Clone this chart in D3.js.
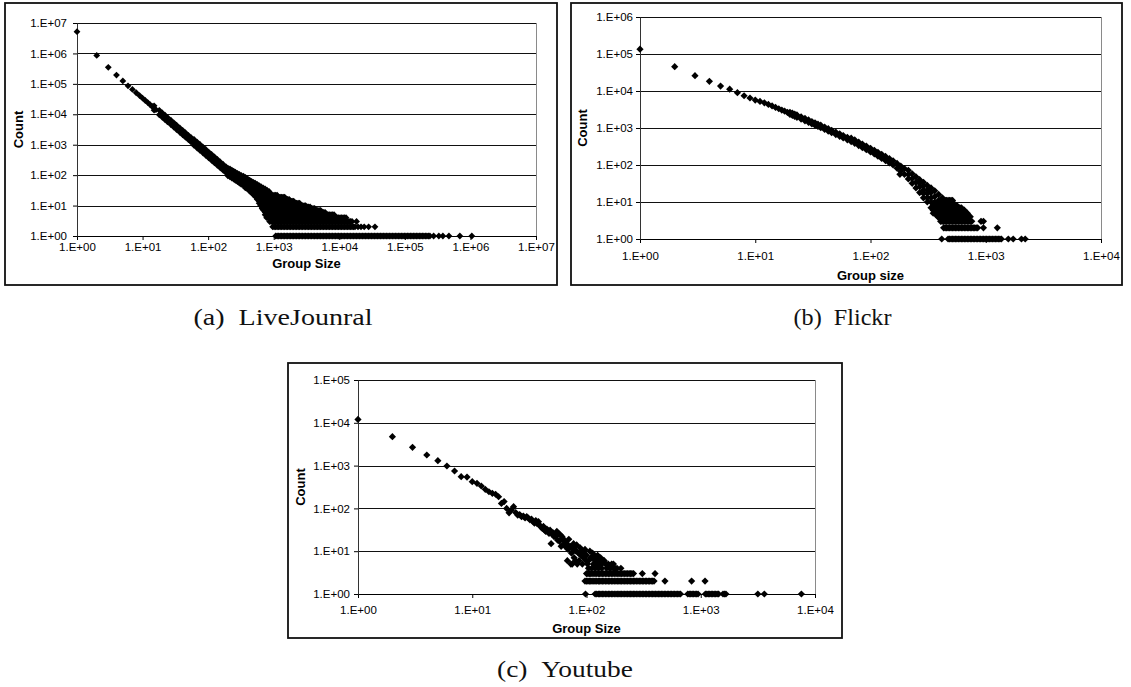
<!DOCTYPE html>
<html><head><meta charset="utf-8">
<script src="https://cdn.jsdelivr.net/npm/d3@7"></script>
<style>html,body{margin:0;padding:0;background:#fff;}svg{display:block;}</style>
</head><body>
<svg id="chart" width="1131" height="687"></svg>
<script>
// ---------------- DATA ----------------
// (a) LiveJournal
const ljXTicks = [1,10,100,1e3,1e4,1e5,1e6,1e7];
const ljYTicks = [1,10,100,1e3,1e4,1e5,1e6,1e7];
const ljHead = [[1,5200000],[2,860000],[3,350000],[4,195000],[5,125000],[6,86000],[7,65500],[8,51000],[9,41100],[10,33800],[11,28400],[12,24200],[13,20800],[14,18000],[16,14200]];
const ljCols = [
 [15,[18900,13600]],[18,[13450,9660]],[20,[11070,7950]],[22,[9290,6670]],[24,[7900,5680]],
 [27,[6370,4580]],[30,[5240,3760]],[33,[4380,3140]],[37,[3550,2550]],[41,[2930,2100]],
 [45,[2470,1770]],[50,[2030,1460]],[55,[1710,1230]],[61,[1490,1190,950]],[68,[1220,973,780]],
 [75,[1020,813,650]],[83,[845,675,540]],[92,[700,557,445]],[102,[575,460,368]],[113,[476,381,305]],
 [125,[395,316,253]],[138,[330,263,210]],[153,[272,217,174]],[170,[224,179,143]],[188,[186,149,119]],
 [200,[170,140,115,95]],[215,[160,130,105,88]],[230,[145,118,95,80]],[245,[135,110,88,74]],
 [260,[125,100,82,68]],[280,[115,92,75,61]],[300,[105,85,68,55]],[320,[98,80,64,50]],
 [345,[92,75,60,46]],[370,[85,68,54,43,38]],[400,[75,60,48,38,35]],[430,[68,55,44,36,30]],
 [460,[62,50,40,32,26]],[490,[58,46,37,29,23]],[520,[55,44,35,28,22,20]],[560,[50,40,32,25,19,16]],
 [600,[45,36,29]],[640,[42,34,28]],[690,[38,31]],[740,[35,29]],[790,[32,27]],[850,[29]]
];
const ljSizes = [600,632,666,702,740,780,822,867,914,963,1015,1070,1128,1189,1253,1321,1392,1467,1546,1630,1718,1811,1909,2012,2120,2235,2356,2483,2617,2758,2907,3064,3230,3404,3588,3782,3986,4201,4428,4667,4919,5185,5465,5760,6071,6399,6745,7109,7493,7898,8324,8774,9248,9747,10274,10828,11413,12029,12679,13364,14085,14846,15648,16493,17383,18322,19311,20354,21453,22612,23833,25120,26476,27906,29413,31001,32675,34440,36300,38260,40326,42504,44799,47218,49768,52455,55288,58273,61420,64737,68233,71917,75801,79894,84209,88756,93549,98600,103925,109537,115452,121686,128257,135183,142483,150177,158287,166834,175843,185339,195347,205896,217015,228734,241085];
// [count, smallest size, largest size] of each solid row
const ljRowSpans = [[1,1050,241085],[2,950,17383],[3,830,16000],[4,780,12679],[5,740,8324],[6,720,6071],[7,690,5185],[8,666,4201],[9,650,3588],[10,632,3064],[12,600,2483],[14,600,2012],[16,600,1718],[19,600,1467],[22,600,1128],[26,600,900]];
const ljDots = [[18322,3],[19311,2],[21453,2],[24000,2],[28000,2],[35000,2],[275000,1],[330000,1],[380000,1],[470000,1],[690000,1],[1050000,1]];

// (b) Flickr
const flXTicks = [1,10,100,1e3,1e4];
const flYTicks = [1,10,100,1e3,1e4,1e5,1e6];
const flHead = [[1,135000],[2,45500],[3,26000],[4,18300],[5,13600],[6,11200],[7,9000],[8,7450],[9,6460],[10,5700],[11,5240],[12,4800],[13,4350],[14,3950],[15,3600],[16,3310],[17,3060],[18,2850],[19,2650],[180,56]];
const flCols = [
 [20,[2650,2330]],[21,[2520,2190]],[22,[2370,2050]],[23,[2250,1940]],[25,[2010,1740]],[27,[1810,1560]],
 [29,[1650,1420]],[31,[1500,1290]],[33,[1380,1190]],[35,[1270,1100]],[37,[1190,1020]],[40,[1060,915]],
 [43,[960,825]],[46,[870,748]],[50,[773,663]],[54,[694,595]],[58,[626,537]],[63,[558,479]],
 [68,[530,430]],[73,[475,385]],[79,[415,335]],[85,[370,296]],[92,[325,260]],[100,[282,225]],
 [108,[250,198]],[116,[220,173]],[125,[195,151]],[135,[170,132]],[146,[148,114]],[157,[130,100]],
 [170,[110,82]],[183,[94,68]],[197,[80,56]],[213,[72,55,42]],[230,[58,43,32]],[248,[48,34,24]],
 [267,[40,32,26,18]],[288,[34,27,21,17,13]],[311,[28,21,17,13,10]],[335,[24,18,13,10,7]],
 [361,[20,14,10,7,5]],[390,[16,11,8,6,4]],[420,[13,9,7,5]],[455,[10,7,5]],[490,[8,6]]
];
const flSizes = [330,340,350,361,372,383,394,406,418,431,444,457,471,485,500,515,530,546,562,579,597,615,633,652,672,692,713,734,756,779,802,826,851,877,903,930,958,987,1017,1047,1079,1111,1144,1179,1214,1251,1288,1327,1367,1408];
const flRowSpans = [[1,470,1380],[2,430,860],[3,400,760],[4,375,740],[5,345,700],[6,345,660],[7,345,620],[8,345,562],[9,345,530],[10,400,500],[11,430,515]];
const flDots = [[415,1],[1570,1],[1730,1],[2040,1],[2200,1],[910,3],[955,3],[955,2],[1260,2]];

// (c) Youtube
const ytXTicks = [1,10,100,1e3,1e4];
const ytYTicks = [1,10,100,1e3,1e4,1e5];
const ytMain = [[1,12000],[2,4730],[3,2670],[4,1770],[5,1300],[6,980],[7,748],[8,550],[9,540],[10,421],[11,386],[12,334],[13,279],[14,245],[15,225],[16,214],[17,187],[18,131],[19,144],[20,100],[21,79],[22,92],[23,110],[24,80],[25,70],[26,72],[27,64],[28,66],[29,60],[30,64],[31,59],[32,54],[33,56],[34,50],[35,45],[36,52],[37,44],[38,49],[39,40],[40,37],[41,34],[42,38],[43,31],[44,29],[45,33],[46,30],[47,26],[48,31],[49,15],[50,25],[51,27],[52,22],[53,24],[54,22],[55,29],[56,18],[57,26],[58,17],[59,24],[60,13],[61,22],[62,20],[63,18],[64,15],[65,13],[66,16],[67,15],[68,6],[69,11],[70,19],[71,12],[72,13],[73,5],[74,9],[75,5],[76,12],[77,15],[78,7],[79,11],[80,6],[81,10],[82,14],[83,5],[85,9],[86,6],[88,12],[89,8],[91,10],[92,5],[94,7],[95,9],[97,11],[99,6],[100,8],[102,5],[104,6],[107,10],[109,7],[111,7],[113,9],[115,5],[117,8],[119,6],[121,7],[123,5],[125,8],[127,6],[130,5],[133,7],[136,5],[140,6],[143,6],[147,5],[150,4],[155,5],[161,4],[166,5],[172,5],[178,4]];
const ytSizes = [97,100,103,106,109,112,116,119,123,127,130,134,138,142,147,151,156,160,165,170,175,181,186,192,197,203,209,216,222,229,236,243,250,258,265,273,282,290,299,308,317,327,336,347,357,368,379,390,402,414,426,439,452,466,480,494,509,524,540,556,573,590,608,626,645,664,684,705,726,748,770,793,817,841,867,893,920,947,976,1005,1035,1066,1098,1131,1165,1200,1236,1273,1311,1351,1391,1433,1476,1520,1566,1613,1661,1711];
const ytRowSpans = [[1,119,675],[1,750,960],[1,1090,1440],[1,1560,1670],[2,97,392],[3,100,262]];
const ytDots = [[98,1],[3160,1],[3600,1],[7600,1],[486,2],[832,2],[1090,2],[308,3],[398,3],[104,4],[111,4],[119,4],[127,4],[136,4],[161,4],[172,4],[185,4],[200,4]];

// ---------------- DRAW ----------------
const svg = d3.select("#chart");
const diamond = { draw(ctx, size) { const r = Math.sqrt(size / 2); ctx.moveTo(0, -r); ctx.lineTo(r, 0); ctx.lineTo(0, r); ctx.lineTo(-r, 0); ctx.closePath(); } };
const fmt = d => "1.E+" + String(Math.round(Math.log10(d))).padStart(2, "0");
const SANS = "'Liberation Sans', Arial, Helvetica, sans-serif";

const fromCols = cols => cols.flatMap(([xv, ys]) => ys.map(yv => [xv, yv]));
const fromSpans = (sizes, spans) => spans.flatMap(([c, lo, hi]) => sizes.filter(s => s >= lo && s <= hi).map(s => [s, c]));

function panel(cfg) {
  const g = svg.append("g");
  const [bx0, by0, bx1, by1] = cfg.box;
  g.append("rect").attr("x", bx0).attr("y", by0).attr("width", bx1 - bx0).attr("height", by1 - by0)
    .attr("fill", "#fff").attr("stroke", "#111").attr("stroke-width", 1.8);
  const p = cfg.plot;
  const x = d3.scaleLog().domain(cfg.xDomain).range([p.left, p.right]);
  const y = d3.scaleLog().domain(cfg.yDomain).range([p.bottom, p.top]);

  g.append("g").selectAll("line").data(cfg.yTicks.slice(1)).join("line")
    .attr("x1", p.left).attr("x2", p.right)
    .attr("y1", d => Math.round(y(d)) + 0.5).attr("y2", d => Math.round(y(d)) + 0.5)
    .attr("stroke", "#111").attr("stroke-width", 1);
  g.append("line").attr("x1", p.right + 0.5).attr("x2", p.right + 0.5).attr("y1", p.top).attr("y2", p.bottom)
    .attr("stroke", "#8a8a8a").attr("stroke-width", 1);

  const ax = g.append("g").attr("transform", `translate(0,${p.bottom})`)
    .call(d3.axisBottom(x).tickValues(cfg.xTicks).tickFormat(fmt).tickSize(4).tickSizeOuter(0).tickPadding(cfg.xPad));
  ax.attr("font-family", SANS).attr("font-size", 11.5);
  ax.select(".domain").attr("stroke", "#000");
  ax.selectAll(".tick line").attr("stroke", "#000");
  ax.selectAll("text").attr("fill", "#000");

  const ay = g.append("g").attr("transform", `translate(${p.left},0)`)
    .call(d3.axisLeft(y).tickValues(cfg.yTicks).tickFormat(fmt).tickSize(4).tickSizeOuter(0).tickPadding(cfg.yPad));
  ay.attr("font-family", SANS).attr("font-size", 11.5);
  ay.select(".domain").attr("stroke", "#333");
  ay.selectAll(".tick line").attr("stroke", "#000");
  ay.selectAll("text").attr("fill", "#000");

  g.append("text").attr("x", (p.left + p.right) / 2).attr("y", cfg.xTitleY)
    .attr("text-anchor", "middle").attr("font-family", SANS).attr("font-weight", "bold").attr("font-size", 13)
    .attr("fill", "#000").text(cfg.xTitle);
  g.append("text").attr("transform", `translate(${cfg.yTitleX},${(p.top + p.bottom) / 2}) rotate(-90)`)
    .attr("text-anchor", "middle").attr("font-family", SANS).attr("font-weight", "bold").attr("font-size", 13)
    .attr("fill", "#000").text("Count");

  const sym = d3.symbol().type(diamond).size(2 * cfg.r * cfg.r);
  g.append("g").selectAll("path").data(cfg.points).join("path")
    .attr("d", sym).attr("fill", "#000")
    .attr("transform", d => `translate(${x(d[0])},${y(d[1])})`);

  svg.append("text").attr("x", cfg.cap.x).attr("y", cfg.cap.y).attr("text-anchor", "middle")
    .attr("font-family", "'Liberation Serif', 'Times New Roman', serif").attr("font-size", 23)
    .attr("textLength", cfg.cap.w).attr("lengthAdjust", "spacingAndGlyphs")
    .attr("fill", "#111").text(cfg.cap.text);
}

panel({
  box: [5, 3, 557, 285], plot: { left: 77, right: 536, top: 23, bottom: 236 },
  xDomain: [1, 1e7], yDomain: [1, 1e7], xTicks: ljXTicks, yTicks: ljYTicks, xPad: 3, yPad: 6,
  xTitle: "Group Size", xTitleY: 268, yTitleX: 22.5, r: 3.4,
  points: [...ljHead, ...fromCols(ljCols), ...fromSpans(ljSizes, ljRowSpans), ...ljDots],
  cap: { x: 283, y: 325, w: 179, text: "(a)\u2002LiveJounral" }
});
panel({
  box: [571, 3, 1122, 285], plot: { left: 640, right: 1101, top: 17, bottom: 239 },
  xDomain: [1, 1e4], yDomain: [1, 1e6], xTicks: flXTicks, yTicks: flYTicks, xPad: 9, yPad: 3,
  xTitle: "Group size", xTitleY: 279.5, yTitleX: 587, r: 3.6,
  points: [...flHead, ...fromCols(flCols), ...fromSpans(flSizes, flRowSpans), ...flDots],
  cap: { x: 842.5, y: 325, w: 98, text: "(b)\u2002Flickr" }
});
panel({
  box: [288, 363, 842, 638], plot: { left: 358, right: 815, top: 380, bottom: 594 },
  xDomain: [1, 1e4], yDomain: [1, 1e5], xTicks: ytXTicks, yTicks: ytYTicks, xPad: 8, yPad: 4,
  xTitle: "Group Size", xTitleY: 632.5, yTitleX: 304.5, r: 3.6,
  points: [...ytMain, ...fromSpans(ytSizes, ytRowSpans), ...ytDots],
  cap: { x: 565, y: 677, w: 136, text: "(c)\u2002Youtube" }
});
</script>
</body></html>
